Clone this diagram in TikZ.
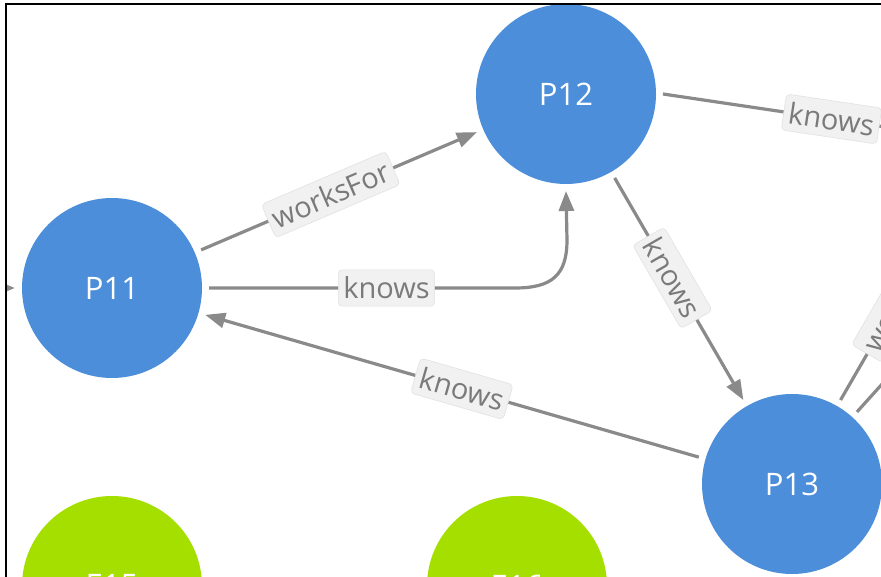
\documentclass[tikz,border=0pt]{standalone}
\usepackage{fontspec}
\setmainfont{Open Sans}
\usetikzlibrary{arrows.meta}
\definecolor{nblue}{HTML}{4C8EDA}
\definecolor{ngreen}{HTML}{A5DF00}
\definecolor{egray}{HTML}{8A8A8A}
\definecolor{lbg}{HTML}{F1F1F1}
\definecolor{lborder}{HTML}{E2E2E2}
\definecolor{ltext}{HTML}{7A7A7A}
\begin{document}
\begin{tikzpicture}[x=1pt,y=-1pt,
  gnode/.style={circle,minimum size=180pt,inner sep=0pt,outer sep=7pt,text=white,
    font=\fontsize{31}{36}\selectfont},
  bluenode/.style={gnode,fill=nblue},
  greennode/.style={gnode,fill=ngreen},
  rel/.style={draw=egray,line width=3.2pt},
  arr/.style={-{Triangle[length=20pt,width=15pt]}},
  lbl/.style={fill=lbg,draw=lborder,line width=0.6pt,text=ltext,rounded corners=4pt,
    font=\fontsize{29}{34}\selectfont,inner xsep=5pt,inner ysep=7pt,sloped}
]
\useasboundingbox (0,0) rectangle (881,577);
\fill[white] (0,0) rectangle (881,577);
\begin{scope}
\clip (7,5) rectangle (881,577);
% nodes
\node[bluenode] (p12) at (566,94) {P12};
\node[bluenode] (p11) at (112,288) {P11};
\node[bluenode] (p13) at (792,484) {P13};
\node[greennode] (e15) at (112,586) {E15};
\node[greennode] (e16) at (517,586) {E16};
% free ends
\coordinate (o1) at (1000,144);
\coordinate (o2) at (992,138);
\coordinate (o3) at (993,261);
\coordinate (o4) at (-100,288);
% connectors
\draw[rel,arr] (p11) -- node[lbl,pos=0.47]{worksFor} (p12);
\draw[rel,arr] (p11.east) -- node[lbl,pos=0.58]{knows} (515,288)
   .. controls (552,288) and (567,275) .. (567,240) -- (p12.south);
\draw[rel,arr] (p12) -- node[lbl,pos=0.45]{knows} (p13);
\draw[rel,arr] (p13) -- node[lbl,pos=0.48]{knows} (p11);
\draw[rel] (p12.east) -- node[lbl,pos=0.5]{knows} (o1);
\draw[rel] (p13) -- node[lbl,pos=0.40]{worksFor} (o2);
\draw[rel] (p13) -- (o3);
\draw[rel,arr] (o4) -- (p11.west);
\end{scope}
\draw[line width=2pt,black] (6,577) -- (6,4) -- (881,4);
\end{tikzpicture}
\end{document}
